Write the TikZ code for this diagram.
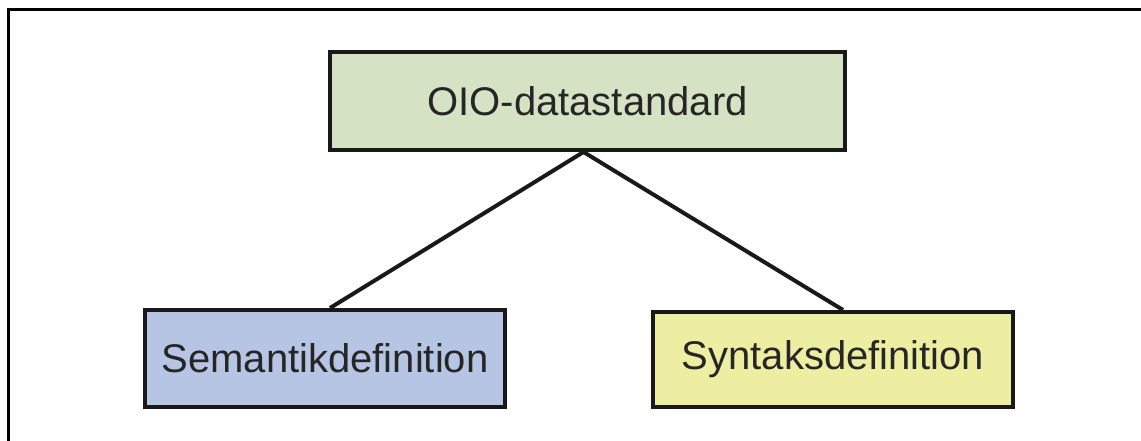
\documentclass[tikz,border=0pt]{standalone}
\usepackage{fontspec}
\setmainfont{Liberation Sans}
\definecolor{boxgreen}{RGB}{214,226,196}
\definecolor{boxblue}{RGB}{182,197,228}
\definecolor{boxyellow}{RGB}{238,238,162}
\definecolor{inkgray}{RGB}{38,38,38}
\tikzset{
  concept/.style={draw=black!90, line width=3pt, rectangle, text=inkgray,
    font=\fontsize{30}{36}\selectfont, inner sep=0pt},
  link/.style={draw=black!90, line width=3pt},
  frameline/.style={draw=black, line width=2.25pt}
}
\begin{document}
\begin{tikzpicture}[x=0.75pt, y=-0.75pt]
  \useasboundingbox (0,0) rectangle (1141,441);
  % frame around the figure
  \coordinate (fbl) at (8,441);
  \coordinate (ftl) at (8,10);
  \coordinate (ftr) at (1141,10);
  \draw[frameline] (fbl) -- (ftl) -- (ftr);

  % concept boxes
  \node[concept, fill=boxgreen, minimum width=386.25pt, minimum height=73.5pt]
    (std) at (587.5,101) {OIO-datastandard};
  \node[concept, fill=boxblue, minimum width=270pt, minimum height=72.75pt]
    (sem) at (325,358.5) {Semantikdefinition};
  \node[concept, fill=boxyellow, minimum width=270pt, minimum height=71.25pt]
    (syn) at (833,359.5) {Syntaksdefinition};

  % connectors
  \draw[link] ([xshift=-3pt]std.south) -- ([xshift=3.75pt]sem.north);
  \draw[link] ([xshift=-3pt]std.south) -- ([xshift=7.5pt]syn.north);
\end{tikzpicture}
\end{document}
